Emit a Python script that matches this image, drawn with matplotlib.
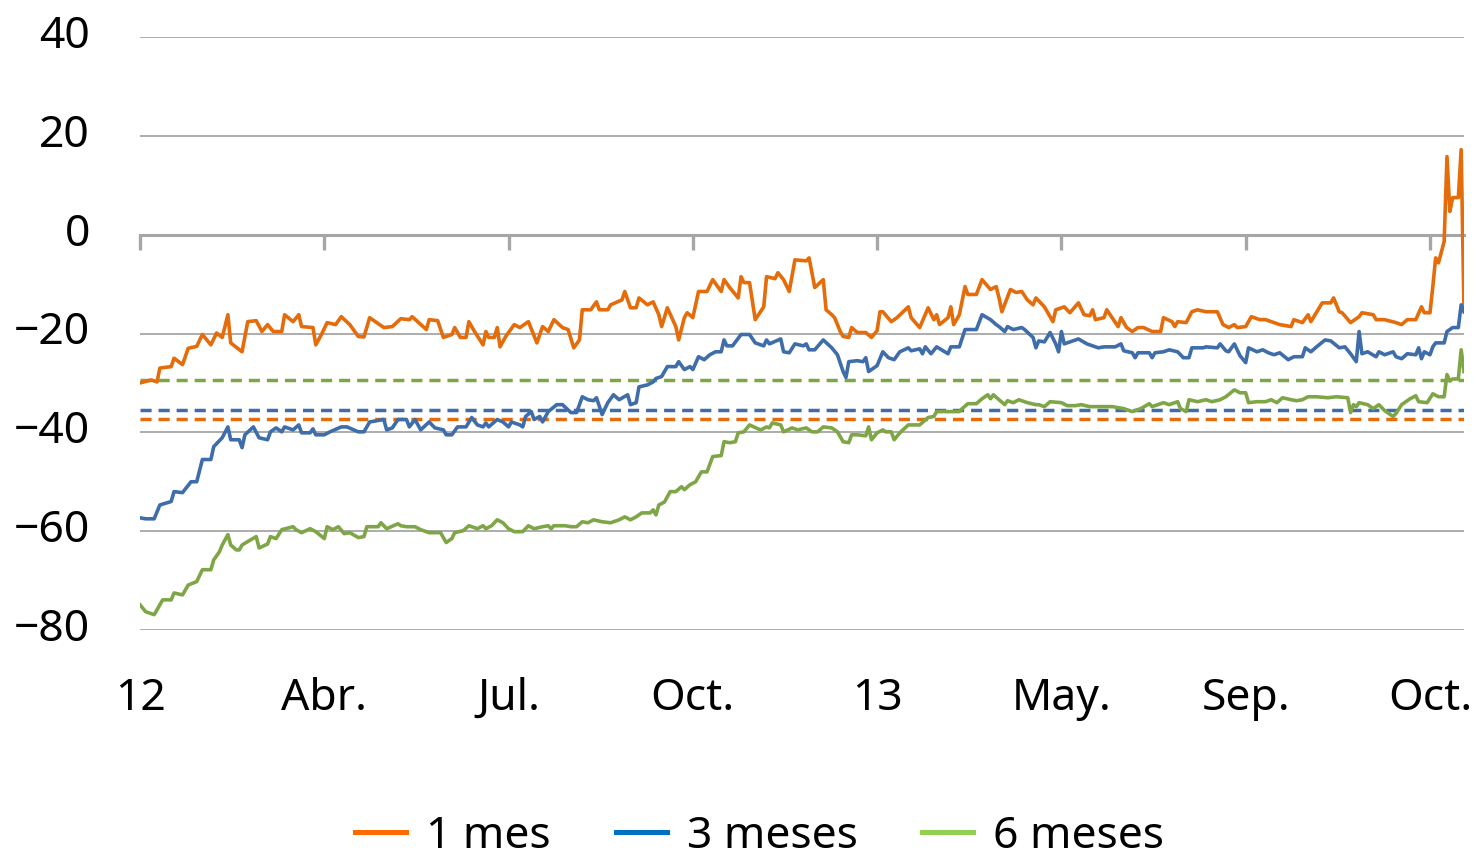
import matplotlib
matplotlib.use("Agg")
import matplotlib.pyplot as plt
from matplotlib.lines import Line2D
from matplotlib.transforms import ScaledTranslation

plt.rcParams['font.family'] = ['Noto Sans', 'DejaVu Sans']

t_1m = [0, 4, 6, 7, 11, 12, 15, 17, 20, 22, 25, 27, 29, 31, 32, 36, 38, 41, 43, 45, 47, 50, 51, 54, 56, 57,
        61, 62, 64, 66, 69, 71, 74, 77, 79, 81, 86, 89, 92, 95, 96, 101, 102, 105, 107, 110, 111, 113, 115,
        116, 118, 121, 122, 123, 125, 126, 127, 129, 132, 134, 137, 140, 142, 144, 146, 149, 151, 153, 155,
        156, 159, 161, 162, 165, 166, 170, 171, 173, 175, 176, 179, 181, 183, 184, 186, 189, 190, 192, 193,
        195, 197, 200, 202, 205, 206, 208, 211, 212, 213, 215, 217, 220, 221, 224, 225, 227, 229, 231, 235,
        236, 238, 241, 242, 244, 245, 247, 248, 250, 251, 253, 256, 258, 260, 261, 262, 265, 267, 271, 272,
        275, 278, 280, 281, 282, 285, 286, 287, 289, 291, 292, 295, 297, 300, 302, 303, 304, 307, 309, 311,
        313, 315, 316, 319, 322, 323, 326, 328, 331, 333, 335, 336, 337, 340, 341, 345, 346, 348, 350, 352,
        354, 357, 360, 361, 364, 365, 366, 369, 371, 373, 376, 380, 382, 384, 386, 387, 390, 392, 395, 397,
        400, 402, 406, 407, 410, 412, 413, 417, 420, 421, 423, 424, 427, 430, 431, 435, 436, 439, 443, 445,
        447, 450, 452, 453, 455, 456, 457, 458, 460, 461, 462, 463, 465, 466, 467]
v_1m = [-30.0, -29.4, -29.8, -27.0, -26.7, -25.0, -26.3, -23.0, -22.6, -20.2, -22.3, -19.9, -20.8, -16.2,
        -21.9, -23.7, -17.6, -17.4, -19.6, -18.2, -19.6, -19.6, -16.2, -17.6, -16.2, -18.6, -18.8, -22.3,
        -20.2, -17.8, -18.2, -16.6, -18.2, -20.6, -20.7, -16.8, -18.8, -18.6, -17.0, -17.2, -16.6, -19.2,
        -17.2, -17.4, -20.8, -20.2, -18.8, -20.8, -20.8, -17.6, -19.6, -22.3, -19.6, -20.8, -20.8, -18.8,
        -22.7, -20.6, -18.2, -18.8, -17.6, -21.9, -18.6, -19.6, -17.2, -18.8, -19.2, -22.9, -21.3, -15.2,
        -15.2, -13.6, -15.2, -15.2, -14.2, -13.2, -11.5, -14.8, -14.8, -12.8, -14.2, -13.6, -16.2, -18.6,
        -14.8, -18.6, -21.3, -16.8, -15.8, -16.8, -11.5, -11.5, -9.1, -11.5, -9.1, -10.7, -12.8, -8.5,
        -9.7, -9.7, -17.2, -14.6, -8.5, -8.9, -7.7, -9.1, -11.5, -5.1, -5.3, -4.7, -10.7, -9.1, -15.2,
        -16.2, -16.8, -19.6, -20.6, -20.8, -18.8, -19.8, -19.8, -20.8, -19.4, -15.6, -15.6, -17.6, -16.8,
        -14.6, -16.8, -18.8, -14.8, -17.2, -16.2, -18.2, -16.8, -14.6, -18.2, -16.2, -10.5, -12.1, -12.1,
        -9.1, -11.1, -10.5, -12.8, -15.6, -11.1, -11.7, -11.5, -13.2, -14.2, -12.8, -14.6, -17.6, -15.2,
        -14.6, -15.8, -13.8, -16.2, -16.4, -15.2, -17.2, -16.8, -15.2, -18.6, -16.8, -18.8, -19.6, -18.8,
        -18.8, -19.6, -19.6, -16.8, -17.6, -18.6, -17.6, -17.8, -15.6, -15.2, -15.6, -15.6, -18.2, -18.8,
        -18.2, -18.8, -18.6, -16.6, -17.2, -17.2, -17.8, -18.2, -18.6, -17.2, -17.8, -16.2, -17.6, -13.8,
        -13.8, -12.8, -15.6, -15.8, -17.8, -16.6, -15.8, -16.2, -17.2, -17.2, -17.8, -18.2, -17.2, -17.2,
        -14.6, -15.8, -15.8, -10.5, -4.7, -5.7, -1.4, 15.8, 4.7, 7.5, 7.5, 17.2, -15.2]

t_3m = [0, 2, 5, 7, 11, 12, 15, 18, 20, 22, 25, 26, 29, 31, 32, 35, 36, 37, 40, 42, 45, 46, 48, 50, 51, 54,
        56, 57, 60, 61, 62, 65, 67, 71, 73, 77, 79, 81, 86, 87, 89, 91, 94, 95, 97, 99, 102, 104, 107, 108,
        110, 112, 115, 117, 119, 121, 122, 123, 126, 128, 130, 131, 134, 135, 136, 138, 139, 141, 142, 144,
        147, 149, 152, 154, 156, 158, 160, 161, 163, 165, 167, 169, 172, 173, 175, 176, 179, 181, 182, 184,
        186, 189, 190, 192, 194, 195, 197, 199, 201, 203, 205, 206, 207, 209, 212, 215, 217, 220, 221, 222,
        226, 227, 229, 231, 234, 235, 236, 238, 241, 244, 246, 248, 249, 250, 253, 255, 256, 257, 260, 262,
        264, 266, 268, 271, 272, 275, 276, 277, 279, 281, 285, 286, 289, 291, 295, 297, 300, 302, 303, 305,
        306, 308, 311, 312, 315, 316, 317, 319, 321, 323, 324, 325, 326, 328, 331, 334, 338, 340, 344, 346,
        347, 350, 351, 352, 356, 357, 358, 361, 363, 366, 368, 370, 371, 375, 376, 380, 381, 383, 384, 386,
        388, 390, 391, 394, 396, 398, 400, 402, 405, 407, 410, 411, 413, 415, 418, 420, 423, 425, 427, 429,
        430, 431, 433, 436, 437, 439, 442, 443, 445, 447, 450, 451, 452, 453, 455, 456, 457, 460, 461, 463,
        465, 466, 467]
v_3m = [-57.3, -57.5, -57.5, -54.7, -54.0, -52.0, -52.2, -50.0, -50.0, -45.5, -45.5, -42.9, -41.1, -38.9,
        -41.5, -41.5, -43.1, -40.5, -38.9, -41.1, -41.5, -39.9, -39.1, -39.9, -38.9, -39.5, -38.5, -40.1,
        -40.1, -39.3, -40.5, -40.5, -39.9, -38.9, -38.9, -39.9, -39.9, -37.9, -37.4, -39.5, -39.1, -37.4,
        -37.4, -38.9, -37.4, -39.5, -37.9, -39.1, -39.5, -40.5, -40.5, -38.9, -38.9, -37.0, -38.5, -38.9,
        -38.1, -38.9, -37.4, -37.9, -38.9, -37.9, -38.5, -38.9, -36.8, -35.8, -37.4, -36.8, -37.9, -35.8,
        -34.4, -34.4, -36.0, -36.0, -32.8, -33.4, -33.6, -33.0, -36.4, -34.0, -32.4, -33.4, -32.4, -34.4,
        -34.0, -30.8, -30.4, -29.8, -29.1, -28.7, -26.7, -26.7, -25.7, -27.3, -26.7, -27.3, -24.7, -25.3,
        -24.3, -23.7, -23.7, -21.3, -22.5, -22.5, -20.2, -20.2, -21.9, -22.5, -21.3, -22.1, -21.1, -23.7,
        -23.9, -22.1, -22.5, -22.1, -23.3, -23.3, -21.3, -22.9, -24.3, -27.7, -28.9, -25.7, -25.5, -25.7,
        -24.9, -27.7, -26.5, -23.7, -24.9, -25.3, -23.7, -22.9, -23.5, -23.1, -24.1, -22.7, -24.1, -22.7,
        -24.1, -22.7, -22.7, -19.2, -19.2, -16.2, -17.2, -18.2, -18.6, -19.6, -18.6, -19.2, -18.8, -19.2,
        -20.8, -22.9, -21.5, -21.7, -19.8, -22.1, -23.7, -19.6, -22.1, -21.7, -21.1, -22.1, -22.9, -22.7,
        -22.7, -22.1, -23.5, -23.9, -24.9, -23.9, -23.9, -24.9, -23.9, -23.7, -23.3, -23.7, -24.9, -24.9,
        -22.9, -22.9, -22.7, -22.9, -22.1, -23.5, -23.7, -22.1, -24.5, -25.9, -22.9, -23.7, -23.3, -23.9,
        -24.3, -23.9, -25.3, -24.7, -24.7, -22.9, -23.7, -22.7, -21.3, -21.5, -22.9, -22.7, -24.1, -25.7,
        -19.6, -24.1, -23.7, -24.7, -23.7, -24.3, -23.7, -24.7, -25.1, -24.1, -24.3, -22.9, -25.1, -23.7,
        -24.3, -22.7, -21.9, -21.9, -19.6, -18.8, -18.8, -14.2, -15.6]

t_6m = [0, 2, 5, 6, 8, 11, 12, 15, 17, 20, 22, 25, 26, 28, 29, 31, 32, 34, 35, 36, 38, 41, 42, 45, 46, 48,
        50, 54, 55, 57, 60, 62, 65, 66, 68, 70, 72, 74, 77, 79, 80, 84, 85, 87, 91, 92, 94, 97, 99, 102,
        106, 108, 110, 111, 114, 116, 119, 121, 122, 124, 126, 128, 130, 132, 135, 137, 139, 142, 144, 145,
        146, 150, 152, 154, 156, 158, 160, 163, 166, 167, 169, 171, 173, 175, 177, 180, 181, 182, 183, 185,
        187, 189, 191, 192, 194, 196, 198, 200, 202, 205, 206, 208, 210, 211, 213, 215, 218, 219, 221, 222,
        223, 226, 227, 230, 232, 235, 237, 239, 241, 244, 246, 248, 250, 251, 253, 256, 257, 258, 260, 262,
        263, 265, 266, 268, 271, 273, 275, 278, 280, 281, 284, 286, 289, 290, 292, 295, 297, 299, 300, 301,
        303, 305, 306, 308, 310, 313, 316, 317, 319, 321, 325, 327, 330, 332, 335, 340, 343, 347, 350, 353,
        356, 357, 359, 361, 363, 366, 367, 369, 370, 373, 376, 378, 381, 383, 386, 388, 390, 391, 394, 397,
        399, 401, 403, 406, 408, 410, 412, 415, 419, 422, 426, 427, 428, 429, 430, 433, 435, 437, 439, 442,
        443, 445, 448, 450, 451, 454, 456, 458, 460, 461, 462, 463, 465, 466, 467]
v_6m = [-74.9, -76.3, -76.9, -75.9, -73.9, -73.9, -72.5, -72.9, -70.9, -70.2, -67.8, -67.8, -65.8, -64.2,
        -62.8, -60.7, -62.8, -63.8, -63.8, -62.8, -62.1, -61.1, -63.4, -62.6, -61.1, -61.5, -59.7, -59.1,
        -59.7, -60.3, -59.5, -60.1, -61.5, -59.1, -59.7, -59.1, -60.5, -60.3, -61.3, -61.1, -59.1, -59.1,
        -58.3, -59.5, -58.5, -58.9, -59.1, -59.1, -59.7, -60.3, -60.3, -62.3, -61.5, -60.3, -59.9, -58.9,
        -59.5, -58.9, -59.5, -58.9, -57.7, -58.3, -59.5, -60.1, -60.1, -58.9, -59.5, -59.1, -58.9, -59.5,
        -58.9, -58.9, -59.1, -59.1, -58.1, -58.3, -57.7, -58.1, -58.3, -58.1, -57.7, -57.1, -57.7, -57.1,
        -56.3, -56.3, -55.7, -56.7, -54.7, -54.1, -52.0, -52.0, -51.0, -51.6, -50.6, -50.0, -48.0, -48.0,
        -44.9, -44.7, -41.9, -42.1, -41.9, -40.1, -39.9, -38.5, -39.3, -39.5, -38.9, -39.1, -38.1, -38.5,
        -39.9, -39.1, -39.5, -39.1, -39.9, -39.9, -38.9, -39.1, -39.9, -41.9, -42.1, -40.5, -40.5, -40.7,
        -38.9, -41.5, -40.1, -39.5, -39.9, -39.9, -41.5, -40.1, -38.5, -38.5, -38.5, -37.0, -36.8, -35.8,
        -35.8, -35.8, -35.8, -35.2, -34.2, -34.2, -33.2, -32.4, -33.2, -32.4, -33.4, -34.4, -33.6, -34.0,
        -33.4, -34.0, -34.4, -34.4, -34.8, -33.8, -34.0, -34.6, -34.6, -34.4, -34.8, -34.8, -34.8, -35.2,
        -35.8, -35.2, -34.2, -34.8, -34.4, -34.0, -34.4, -33.8, -35.2, -35.8, -33.4, -33.8, -33.4, -33.8,
        -33.4, -32.8, -31.4, -32.0, -32.0, -34.0, -33.8, -33.8, -33.4, -34.0, -33.0, -33.4, -33.6, -33.4,
        -32.8, -32.8, -33.0, -32.8, -33.0, -36.0, -34.4, -34.8, -34.0, -34.4, -35.2, -34.4, -35.6, -36.8,
        -36.2, -34.4, -33.2, -32.6, -33.8, -34.0, -32.2, -32.8, -32.8, -28.3, -29.6, -29.2, -29.2, -23.3,
        -27.7]

# long-run averages (dashed)
avg_1m = -37.4
avg_3m = -35.4
avg_6m = -29.4

tick_pos = [0, 65, 130, 195, 260, 325, 390, 455]
tick_labels = ['12', 'Abr.', 'Jul.', 'Oct.', '13', 'May.', 'Sep.', 'Oct.']
series_names = ['1 mes', '3 meses', '6 meses']

line_colors = ['#E46C0A', '#3F6DAA', '#7FA646']
legend_colors = ['#FF6A00', '#0070C0', '#92D050']
grid_color = '#A6A6A6'

fig = plt.figure(figsize=(14.78, 8.52), dpi=100)
ax = fig.add_axes([140 / 1478, 1 - 630 / 852, 1324 / 1478, 593 / 852])

dash = (0, (3.2, 2.0))
for lvl, c in [(avg_6m, line_colors[2]), (avg_3m, line_colors[1]), (avg_1m, line_colors[0])]:
    ax.axhline(lvl, color=c, lw=2.5, ls=dash, zorder=3)

ax.plot(t_1m, v_1m, color=line_colors[0], lw=2.6, zorder=4)
ax.plot(t_3m, v_3m, color=line_colors[1], lw=2.6, zorder=4)
ax.plot(t_6m, v_6m, color=line_colors[2], lw=2.6, zorder=4)

ax.set_xlim(0, 467)
ax.set_ylim(-80, 40)
ax.set_yticks(range(-80, 41, 20))
ax.yaxis.grid(True, color=grid_color, lw=1.3)
ax.set_axisbelow(True)
ax.tick_params(axis='y', length=0, pad=36, labelsize=32)
# labels sit slightly above their gridlines in the original
for lab in ax.get_yticklabels():
    lab.set_transform(lab.get_transform() + ScaledTranslation(0, 4 / 72, fig.dpi_scale_trans))

for s in ['top', 'right', 'left']:
    ax.spines[s].set_visible(False)
ax.spines['bottom'].set_position(('data', 0))
ax.spines['bottom'].set_color(grid_color)
ax.spines['bottom'].set_linewidth(2.2)
ax.set_xticks(tick_pos)
ax.tick_params(axis='x', length=11, width=2.4, color=grid_color, direction='out', labelbottom=False)

sec = ax.secondary_xaxis(0.0)
sec.set_xticks(tick_pos, tick_labels)
sec.tick_params(length=0, pad=34, labelsize=32)
sec.spines['bottom'].set_visible(False)

handles = [Line2D([], [], color=c, lw=3.6) for c in legend_colors]
fig.legend(handles, series_names, loc='center', bbox_to_anchor=(0.514, 0.018), ncol=3,
           frameon=False, fontsize=32, handlelength=1.15, handletextpad=0.45, columnspacing=1.45,
           borderpad=0.2)

fig.savefig('out.png', dpi=100)
